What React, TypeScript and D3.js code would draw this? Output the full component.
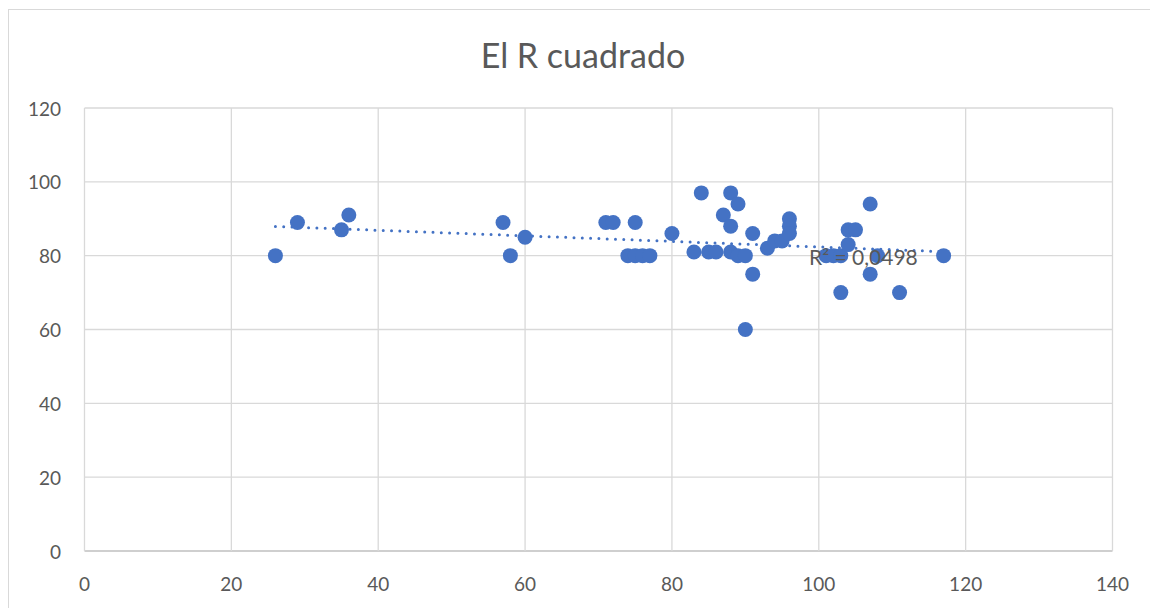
import React from 'react';
import * as d3 from 'd3';

// Scatter values
const xValues = [26, 29, 35, 36, 57, 58, 60, 71, 72, 75, 74, 75, 76, 77, 80, 83, 84, 85, 86, 87, 88, 88, 88, 89, 89, 90, 90, 91, 91, 93, 94, 95, 96, 96, 96, 101, 102, 103, 103, 104, 104, 105, 107, 107, 108, 111, 117];
const yValues = [80, 89, 87, 91, 89, 80, 85, 89, 89, 89, 80, 80, 80, 80, 86, 81, 97, 81, 81, 91, 97, 88, 81, 94, 80, 80, 60, 86, 75, 82, 84, 84, 90, 88, 86, 80, 80, 80, 70, 83, 87, 87, 94, 75, 80, 70, 80];
const xTicks = [0, 20, 40, 60, 80, 100, 120, 140];
const yTicks = [0, 20, 40, 60, 80, 100, 120];
const title = 'El R cuadrado';
const rSquaredLabel = 'R² = 0,0498';

const W = 1150;
const H = 608;
const plot = { left: 84.5, right: 1112.5, top: 108, bottom: 551 };
const blue = '#4472C4';
const grey = '#595959';
const gridColor = '#d9d9d9';
const font = 'Lato, "Open Sans", sans-serif';

const App: React.FC = () => {
  const x = d3.scaleLinear().domain([0, 140]).range([plot.left, plot.right]);
  const y = d3.scaleLinear().domain([0, 120]).range([plot.bottom, plot.top]);

  const points = xValues.map((v, i) => ({ x: v, y: yValues[i] }));

  // least squares trendline, like Excel's linear trend
  const mx = d3.mean(points, d => d.x)!;
  const my = d3.mean(points, d => d.y)!;
  const slope = d3.sum(points, d => (d.x - mx) * (d.y - my)) / d3.sum(points, d => (d.x - mx) ** 2);
  const icpt = my - slope * mx;
  const [xMin, xMax] = d3.extent(xValues) as [number, number];
  const trend = d3.line<number>().x(v => x(v)).y(v => y(icpt + slope * v))([xMin, xMax]) || '';

  return (
    <svg width={W} height={H} style={{ position: 'absolute', left: 0, top: 0, background: '#fff' }}>
      <rect x={8.5} y={9.5} width={W} height={H} fill="#fff" stroke={gridColor} strokeWidth={1} />
      <text x={583} y={54} textAnchor="middle" dominantBaseline="central" fontFamily={font} fontSize={34} fill={grey}>
        {title}
      </text>

      {/* grid */}
      {yTicks.map(t => (
        <line key={'gy' + t} x1={plot.left} x2={plot.right} y1={y(t)} y2={y(t)}
          stroke={t === 0 ? '#bfbfbf' : gridColor} strokeWidth={1.3} />
      ))}
      {xTicks.map(t => (
        <line key={'gx' + t} x1={x(t)} x2={x(t)} y1={plot.top} y2={plot.bottom} stroke={gridColor} strokeWidth={1.3} />
      ))}

      {/* tick labels */}
      {yTicks.map(t => (
        <text key={'ly' + t} x={61} y={y(t)} textAnchor="end" dominantBaseline="central"
          fontFamily={font} fontSize={19} fill={grey}>{t}</text>
      ))}
      {xTicks.map(t => (
        <text key={'lx' + t} x={x(t)} y={583} textAnchor="middle" dominantBaseline="central"
          fontFamily={font} fontSize={19} fill={grey}>{t}</text>
      ))}

      {/* trendline */}
      <path d={trend} fill="none" stroke={blue} strokeWidth={3} strokeLinecap="round" strokeDasharray="0 8.3" />

      {/* points */}
      {points.map((d, i) => (
        <circle key={i} cx={x(d.x)} cy={y(d.y)} r={7.5} fill={blue} />
      ))}

      <text x={809} y={256} dominantBaseline="central" fontFamily={font} fontSize={21} fill={grey}>
        {rSquaredLabel}
      </text>
    </svg>
  );
};

export default App;
